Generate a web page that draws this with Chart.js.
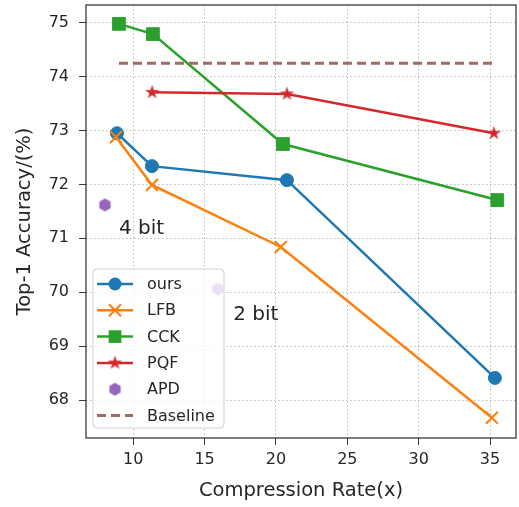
<!DOCTYPE html>
<html>
<head>
<meta charset="utf-8">
<script src="https://cdn.jsdelivr.net/npm/chart.js@4.4.0/dist/chart.umd.min.js"></script>
<style>
  html, body { margin: 0; padding: 0; background: #fff; }
  #chart { display: block; }
</style>
</head>
<body>
<canvas id="chart" width="519" height="507"></canvas>
<script>
// compression rate (x) / top-1 accuracy (%) per method
const oursX = [8.86, 11.31, 20.77, 35.34];
const oursY = [72.95, 72.34, 72.08, 68.41];
const lfbX = [8.79, 11.31, 20.34, 35.13];
const lfbY = [72.88, 71.99, 70.84, 67.67];
const cckX = [9.0, 11.38, 20.49, 35.51];
const cckY = [74.98, 74.79, 72.75, 71.71];
const pqfX = [11.32, 20.77, 35.27];
const pqfY = [73.71, 73.68, 72.95];
const apdX = [8.02, 15.93];
const apdY = [71.62, 70.06];
const baselineX = [9.0, 35.4];
const baselineY = [74.25, 74.25];

const xTicks = [10, 15, 20, 25, 30, 35];
const yTicks = [68, 69, 70, 71, 72, 73, 74, 75];

const notes = ['4 bit', '2 bit'];
const notesX = [9.0, 17.0];
const notesY = [71.08, 69.48];

const FONT = '"DejaVu Sans", sans-serif';
const TEXT = '#262626';

function pts(xs, ys) { return xs.map((x, i) => ({ x: x, y: ys[i] })); }

function shapeImage(kind, r, color) {
    const s = Math.ceil(r * 2) + 2;
    const c = document.createElement('canvas');
    c.width = c.height = s;
    const g = c.getContext('2d');
    g.fillStyle = color;
    g.beginPath();
    if (kind === 'star') {
        for (let i = 0; i < 10; i++) {
            const a = -Math.PI / 2 + i * Math.PI / 5;
            const rr = i % 2 ? r * 0.382 : r;
            g.lineTo(s / 2 + rr * Math.cos(a), s / 2 + rr * Math.sin(a));
        }
    } else {
        for (let i = 0; i < 6; i++) {
            const a = -Math.PI / 2 + i * Math.PI / 3;
            g.lineTo(s / 2 + r * Math.cos(a), s / 2 + r * Math.sin(a));
        }
    }
    g.closePath();
    g.fill();
    return c;
}

const starImg = shapeImage('star', 7.5, '#d62728');
const hexImg = shapeImage('hex', 6.5, '#9467bd');

const datasets = [
    { label: 'ours', data: pts(oursX, oursY), borderColor: '#1f77b4', backgroundColor: '#1f77b4',
      pointStyle: 'circle', pointRadius: 6.5, order: 6 },
    { label: 'LFB', data: pts(lfbX, lfbY), borderColor: '#ff7f0e', backgroundColor: '#ff7f0e',
      pointStyle: 'crossRot', pointRadius: 8.5, pointBorderWidth: 2, order: 5 },
    { label: 'CCK', data: pts(cckX, cckY), borderColor: '#2ca02c', backgroundColor: '#2ca02c',
      pointStyle: 'rect', pointRadius: 9, order: 4 },
    { label: 'PQF', data: pts(pqfX, pqfY), borderColor: '#d62728', backgroundColor: '#d62728',
      pointStyle: starImg, pointRadius: 7, order: 3 },
    { label: 'APD', data: pts(apdX, apdY), borderColor: '#9467bd', backgroundColor: '#9467bd',
      pointStyle: hexImg, pointRadius: 6.5, showLine: false, order: 2 },
    { label: 'Baseline', data: pts(baselineX, baselineY), borderColor: '#9c6d62',
      borderDash: [9, 5], borderWidth: 3, pointRadius: 0, order: 1 }
];
datasets.forEach(d => { if (!d.borderWidth) d.borderWidth = 2.5; d.pointBorderWidth = d.pointBorderWidth || 1; });

function drawMarker(ctx, d, x, y) {
    const st = d.pointStyle;
    if (!st) return;
    if (typeof st !== 'string') {
        ctx.drawImage(st, x - st.width / 2, y - st.height / 2);
        return;
    }
    const r = d.pointRadius;
    ctx.save();
    ctx.fillStyle = d.backgroundColor;
    ctx.strokeStyle = d.borderColor;
    ctx.lineWidth = d.pointBorderWidth;
    ctx.beginPath();
    if (st === 'circle') {
        ctx.arc(x, y, r, 0, Math.PI * 2);
        ctx.fill();
    } else if (st === 'rect') {
        const h = r * Math.SQRT1_2;
        ctx.rect(x - h, y - h, 2 * h, 2 * h);
        ctx.fill();
    } else if (st === 'crossRot') {
        const h = r * Math.SQRT1_2;
        ctx.moveTo(x - h, y - h); ctx.lineTo(x + h, y + h);
        ctx.moveTo(x - h, y + h); ctx.lineTo(x + h, y - h);
        ctx.stroke();
    }
    ctx.restore();
}

const extras = {
    id: 'extras',
    afterDatasetsDraw(chart) {
        const ctx = chart.ctx;
        const a = chart.chartArea;
        const xs = chart.scales.x, ys = chart.scales.y;

        // text notes
        ctx.save();
        ctx.font = '20px ' + FONT;
        ctx.fillStyle = TEXT;
        ctx.textBaseline = 'alphabetic';
        notes.forEach((t, i) => ctx.fillText(t, xs.getPixelForValue(notesX[i]), ys.getPixelForValue(notesY[i])));
        ctx.restore();

        // frame
        ctx.save();
        ctx.strokeStyle = '#3a3a3a';
        ctx.lineWidth = 1.3;
        ctx.strokeRect(a.left, a.top, a.right - a.left, a.bottom - a.top);
        ctx.restore();

        // legend, lower left
        const bw = 131, bh = 159;
        const bx = a.left + 7, by = a.bottom - 10 - bh;
        ctx.save();
        ctx.beginPath();
        ctx.roundRect(bx, by, bw, bh, 4);
        ctx.fillStyle = 'rgba(255,255,255,0.8)';
        ctx.fill();
        ctx.strokeStyle = '#d0d0d0';
        ctx.lineWidth = 1;
        ctx.stroke();
        ctx.font = '16px ' + FONT;
        ctx.textBaseline = 'middle';
        chart.data.datasets.forEach((d, i) => {
            const cy = by + 15 + i * 26.3;
            const x0 = bx + 4, x1 = bx + 40;
            if (d.showLine !== false) {
                ctx.save();
                ctx.strokeStyle = d.borderColor;
                ctx.lineWidth = d.borderWidth;
                ctx.setLineDash(d.borderDash || []);
                ctx.beginPath();
                ctx.moveTo(x0, cy);
                ctx.lineTo(x1, cy);
                ctx.stroke();
                ctx.restore();
            }
            if (d.pointRadius) drawMarker(ctx, d, (x0 + x1) / 2, cy);
            ctx.fillStyle = TEXT;
            ctx.fillText(d.label, bx + 54, cy + 1);
        });
        ctx.restore();
    }
};

new Chart(document.getElementById('chart'), {
    type: 'line',
    data: { datasets: datasets },
    options: {
        responsive: false,
        animation: false,
        devicePixelRatio: 1,
        layout: { autoPadding: false, padding: { top: 5, right: 3, left: 0, bottom: 0 } },
        plugins: { legend: { display: false }, tooltip: { enabled: false } },
        scales: {
            x: {
                type: 'linear',
                min: 6.69, max: 36.82,
                afterBuildTicks: s => { s.ticks = xTicks.map(v => ({ value: v })); },
                afterFit: s => { s.height = 69; s.paddingLeft = 0; s.paddingRight = 0; },
                grid: { color: '#b8b8b8', lineWidth: 1, tickLength: 7, tickColor: '#3a3a3a', tickBorderDash: [] },
                border: { display: false, dash: [1.5, 2.5] },
                ticks: { color: TEXT, font: { family: FONT, size: 16 }, padding: 5, maxRotation: 0 },
                title: { display: true, text: 'Compression Rate(x)', color: TEXT,
                         font: { family: FONT, size: 19.5 }, padding: { top: 0, bottom: 4.5 } }
            },
            y: {
                min: 67.295, max: 75.33,
                afterBuildTicks: s => { s.ticks = yTicks.map(v => ({ value: v })); },
                afterFit: s => { s.width = 86; s.paddingTop = 0; s.paddingBottom = 0; },
                grid: { color: '#b8b8b8', lineWidth: 1, tickLength: 7, tickColor: '#3a3a3a', tickBorderDash: [] },
                border: { display: false, dash: [1.5, 2.5] },
                ticks: { color: TEXT, font: { family: FONT, size: 16 }, padding: 10 },
                title: { display: true, text: 'Top-1 Accuracy/(%)', color: TEXT,
                         font: { family: FONT, size: 19.5 }, padding: { top: 13.5, bottom: 0 } }
            }
        }
    },
    plugins: [extras]
});
</script>
</body>
</html>
